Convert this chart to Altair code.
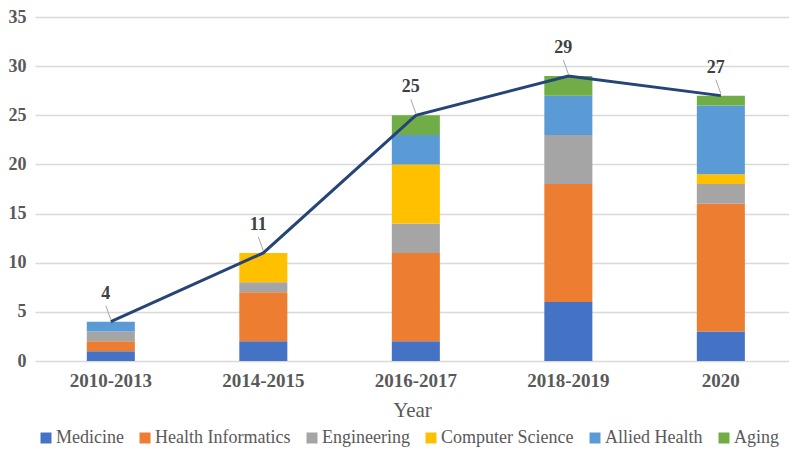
import altair as alt
import pandas as pd

years = ["2010-2013", "2014-2015", "2016-2017", "2018-2019", "2020"]
fields = ["Medicine", "Health Informatics", "Engineering", "Computer Science", "Allied Health", "Aging"]
medicine = [1, 2, 2, 6, 3]
health_informatics = [1, 5, 9, 12, 13]
engineering = [1, 1, 3, 5, 2]
computer_science = [0, 3, 6, 0, 1]
allied_health = [1, 0, 3, 4, 7]
aging = [0, 0, 2, 2, 1]
totals = [4, 11, 25, 29, 27]
colors = ["#4472C4", "#ED7D31", "#A5A5A5", "#FFC000", "#5B9BD5", "#70AD47"]

series = [medicine, health_informatics, engineering, computer_science, allied_health, aging]
rows = []
for fi, (f, vals) in enumerate(zip(fields, series)):
    for y, v in zip(years, vals):
        rows.append({"year": y, "field": f, "value": v, "order": fi})
bars_df = pd.DataFrame(rows)
tot_df = pd.DataFrame({"year": years, "total": totals})

FONT = "Liberation Serif"
TXT = "#595959"

xscale = alt.Scale(domain=years, paddingInner=0.685, paddingOuter=0.3145, align=0.54)
yscale = alt.Scale(domain=[0, 35], nice=False)

bars = alt.Chart(bars_df).mark_bar().encode(
    x=alt.X("year:N", sort=years, scale=xscale,
            axis=alt.Axis(title="Year", labelAngle=0, labelFont=FONT, labelFontSize=19,
                          labelFontWeight="bold", labelColor=TXT, labelPadding=10,
                          titleFont=FONT, titleFontSize=21, titleFontWeight="normal",
                          titleColor=TXT, titlePadding=9, domain=False, ticks=False)),
    y=alt.Y("value:Q", stack="zero", scale=yscale,
            axis=alt.Axis(title=None, values=[0, 5, 10, 15, 20, 25, 30, 35],
                          labelFont=FONT, labelFontSize=18, labelFontWeight="bold",
                          labelColor=TXT, labelPadding=9, domain=False, ticks=False,
                          gridColor="#D9D9D9", gridWidth=1.4)),
    color=alt.Color("field:N", scale=alt.Scale(domain=fields, range=colors),
                    legend=alt.Legend(title=None, orient="none", direction="horizontal",
                                      columns=6, legendX=2, legendY=412,
                                      symbolType="square", symbolSize=121,
                                      symbolStrokeWidth=0, labelFont=FONT,
                                      labelFontSize=18, labelColor=TXT,
                                      labelOffset=1, columnPadding=12, padding=0)),
    order=alt.Order("order:Q", sort="ascending"),
)

line = alt.Chart(tot_df).mark_line(color="#264478", strokeWidth=3).encode(
    x=alt.X("year:N", sort=years, scale=xscale),
    y=alt.Y("total:Q", scale=yscale),
)

leaders = alt.Chart(tot_df).mark_rule(color="#A6A6A6", strokeWidth=1,
                                      yOffset=-2, x2Offset=-5, y2Offset=-16).encode(
    x=alt.X("year:N", sort=years, scale=xscale),
    x2=alt.X2("year:N"),
    y=alt.Y("total:Q", scale=yscale),
    y2=alt.Y2("total:Q"),
)

labels = alt.Chart(tot_df).mark_text(font=FONT, fontSize=18, fontWeight="bold",
                                     color="#404040", dx=-5, dy=-28).encode(
    x=alt.X("year:N", sort=years, scale=xscale),
    y=alt.Y("total:Q", scale=yscale),
    text=alt.Text("total:Q"),
)

chart = alt.layer(bars, line, leaders, labels).properties(
    width=754, height=344,
    autosize=alt.AutoSizeParams(type="none"),
    padding={"left": 27, "top": 9, "right": 0, "bottom": 86},
).configure_view(stroke=None).configure_legend(labelFont=FONT)

chart.save("out.html", embed_options={"renderer": "svg", "actions": False})
